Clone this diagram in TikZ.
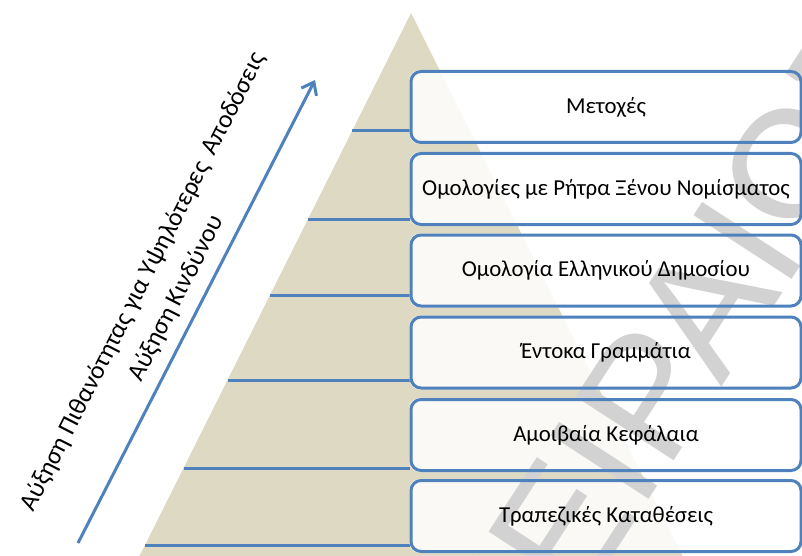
\documentclass[tikz,border=0pt]{standalone}
\usepackage{fontspec}
\setmainfont{Carlito}
\newfontfamily\wmfont{Liberation Sans}
\usetikzlibrary{arrows.meta,calc}
\pgfdeclarelayer{bg}
\pgfsetlayers{bg,main}
\definecolor{pyrtan}{HTML}{DDD9C3}
\definecolor{sblue}{HTML}{4F81BD}
\definecolor{wmgray}{HTML}{D2D2D2}
\tikzset{
  tierbox/.style={draw=sblue, line width=3pt, rounded corners=10pt, minimum width=390pt, minimum height=71pt, inner sep=0pt, font=\fontsize{22.8}{26}\selectfont, text=black},
  tierfill/.style={fill=white, fill opacity=0.86, rounded corners=10pt},
  tierline/.style={draw=sblue, line width=3pt},
  riskarrow/.style={draw=sblue, line width=3pt, -{Straight Barb[length=11pt,width=17pt,line width=3pt]}},
  sidelabel/.style={rotate=63, align=center, font=\fontsize{25.5}{37}\selectfont, text=black},
  watermark/.style={rotate=57, text=wmgray, font=\wmfont\fontsize{170}{170}\selectfont, inner sep=0pt},
}
\begin{document}
\begin{tikzpicture}[x=1pt,y=-1pt]
\useasboundingbox (0,0) rectangle (802,556);
\node[tierbox] (b1) at (606,107) {Μετοχές};
\node[tierbox] (b2) at (606,189) {Ομολογίες με Ρήτρα Ξένου Νομίσματος};
\node[tierbox] (b3) at (606,270.5) {Ομολογία Ελληνικού Δημοσίου};
\node[tierbox] (b4) at (606,352.5) {Έντοκα Γραμμάτια};
\node[tierbox] (b5) at (606,435) {Αμοιβαία Κεφάλαια};
\node[tierbox] (b6) at (606,516) {Τραπεζικές Καταθέσεις};
\node[sidelabel] (lbl) at (160,290) {Αύξηση Πιθανότητας για Υψηλότερες\hspace{0.2em} Αποδόσεις\\Αύξηση Κινδύνου};
\coordinate (atail) at (78,543);
\coordinate (ahead) at (315,80);
\draw[riskarrow] (atail) -- (ahead);
\begin{pgfonlayer}{bg}
  \clip (0,0) rectangle (802,556);
  \fill[white] (0,0) rectangle (802,556);
  \coordinate (apex) at (411,13);
  \coordinate (bl) at (132.5,570);
  \coordinate (br) at (689.5,570);
  \fill[pyrtan] (apex) -- (bl) -- (br) -- cycle;
  \coordinate (e1) at (352,131);
  \coordinate (e2) at (308,219);
  \coordinate (e3) at (270,295);
  \coordinate (e4) at (227.5,380);
  \coordinate (e5) at (183.5,468);
  \coordinate (e6) at (145,545);
  \draw[tierline] (e1) -- (e1 -| b1.west);
  \draw[tierline] (e2) -- (e2 -| b2.west);
  \draw[tierline] (e3) -- (e3 -| b3.west);
  \draw[tierline] (e4) -- (e4 -| b4.west);
  \draw[tierline] (e5) -- (e5 -| b5.west);
  \draw[tierline] (e6) -- (e6 -| b6.west);
  \foreach \b in {b1,b2,b3,b4,b5,b6}
    \fill[tierfill] (\b.north west) rectangle (\b.south east);
  \node[watermark] (wm) at (674,352) {ΠΕΙΡΑΙΩΣ};
\end{pgfonlayer}
\end{tikzpicture}
\end{document}
